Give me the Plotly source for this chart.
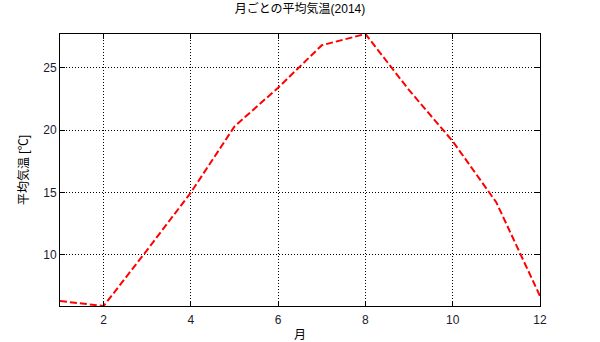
import plotly.graph_objects as go

months = [1, 2, 3, 4, 5, 6, 7, 8, 9, 10, 11, 12]
temps = [6.3, 5.9, 10.4, 15.0, 20.3, 23.4, 26.8, 27.7, 23.2, 19.1, 14.2, 6.7]

title_text = "月ごとの平均気温(2014)"
x_label = "月"
y_label = "平均気温 [℃]"

font_family = "Liberation Sans, Arial, Noto Sans CJK JP, sans-serif"

fig = go.Figure()
fig.add_trace(go.Scatter(
    x=months, y=temps, mode="lines",
    line=dict(color="#ff0000", width=2, dash="7px,3px"),
    showlegend=False,
))

axis_common = dict(
    showline=True, linecolor="black", linewidth=1, mirror="ticks",
    ticks="inside", ticklen=5, tickcolor="black", tickwidth=1,
    showgrid=True, gridcolor="black", griddash="1px,2px", gridwidth=1,
    zeroline=False, automargin=False,
    tickfont=dict(family=font_family, size=12, color="#1a1a2e"),
)

fig.update_layout(
    width=600, height=342,
    margin=dict(l=60, r=60, t=34, b=36),
    paper_bgcolor="white", plot_bgcolor="white",
    font=dict(family=font_family, size=12, color="black"),
    title=dict(text=title_text, x=0.5, xanchor="center", y=0.975, yanchor="middle",
               font=dict(family=font_family, size=12, color="black")),
    xaxis=dict(range=[min(months), max(months)], tick0=0, dtick=2,
               ticklabelstandoff=3,
               title=dict(text=x_label, standoff=6, font=dict(size=12, color="black")),
               **axis_common),
    yaxis=dict(range=[min(temps), max(temps)], tick0=0, dtick=5,
               title=dict(text=y_label, standoff=12, font=dict(size=12, color="black")),
               **axis_common),
)

fig.write_html("out.html")
